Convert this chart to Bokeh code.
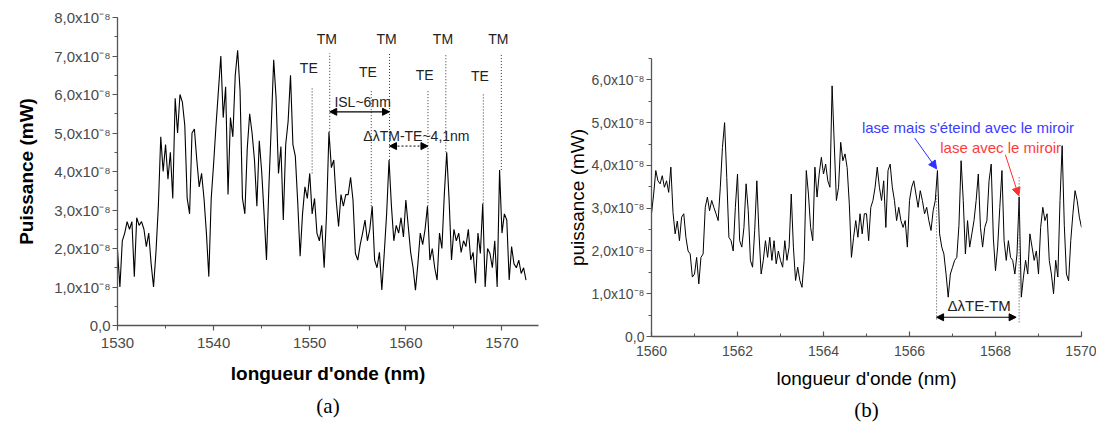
import numpy as np
from bokeh.plotting import figure
from bokeh.layouts import row
from bokeh.models import Range1d, SingleIntervalTicker, Arrow, NormalHead, Title
from bokeh.core.properties import value
from bokeh.embed import file_html
from bokeh.resources import INLINE

# ---------------- data: panel (a) ----------------
# wavelength grid: 1530 nm -> 1572.5 nm, step 0.25 nm ; power in units of 1e-8 mW
a_wl_start = 1530.0
a_wl_step = 0.25
a_power = [
    1.96, 1.0, 2.2, 2.4, 2.7, 2.5, 2.7, 1.27,
    2.8, 2.6, 2.7, 2.5, 2.05, 2.4, 1.6, 1.0,
    1.9, 3.1, 4.9, 4.0, 4.7, 3.8, 4.5, 3.3,
    5.9, 5.0, 6.0, 5.8, 5.2, 3.3, 2.9, 5.0,
    5.1, 4.3, 3.6, 3.95, 3.3, 2.4, 1.27, 3.3,
    4.2, 5.2, 6.1, 7.0, 5.4, 6.2, 3.4, 5.4,
    4.9, 6.5, 7.15, 6.1, 3.3, 2.9, 4.6, 5.5,
    5.0, 4.3, 3.1, 4.8, 4.0, 2.9, 1.7, 3.6,
    5.2, 6.9, 5.9, 3.95, 4.65, 2.74, 4.7, 5.3,
    6.5, 4.7, 4.4, 3.2, 1.8, 2.9, 3.6, 3.3,
    3.95, 2.9, 3.3, 2.4, 2.2, 2.6, 1.5, 2.9,
    5.03, 4.1, 4.3, 3.26, 2.57, 3.4, 3.1, 3.4,
    3.4, 3.85, 3.26, 1.87, 1.7, 2.1, 2.4, 2.74,
    2.2, 2.5, 3.1, 1.7, 1.5, 1.9, 0.92, 1.87,
    2.9, 4.3, 3.1, 2.2, 2.6, 2.4, 2.8, 2.3,
    3.26, 2.57, 1.9, 1.5, 0.92, 1.6, 2.4, 2.1,
    2.5, 3.1, 1.7, 2.0, 1.5, 1.18, 2.4, 2.0,
    3.4, 4.5, 3.26, 1.7, 2.5, 2.2, 2.4, 1.9,
    2.2, 2.05, 2.5, 1.7, 1.9, 1.1, 2.4, 1.87,
    3.17, 1.0, 2.0, 1.87, 1.5, 2.2, 1.0, 4.04,
    2.4, 2.9, 2.74, 1.18, 2.05, 1.6, 1.5, 1.7,
    1.35, 1.5, 1.18,
]
a_wl = a_wl_start + a_wl_step * np.arange(len(a_power))

a_tm_wl = [1552.08, 1558.3, 1564.16, 1569.93]
a_tm_peak = [5.03, 4.3, 4.5, 4.04]
a_te_wl = [1550.25, 1556.4, 1562.3, 1568.06]
a_te_peak = [3.95, 3.1, 3.1, 3.17]
a_ytick_labels = ["0,0"] + [f"{i},0x10\u207b\u2078" for i in range(1, 9)]

# ---------------- data: panel (b) ----------------
# wavelength grid: 1560 nm -> 1570 nm, step 0.05 nm ; power in units of 1e-8 mW
b_wl_start = 1560.0
b_wl_step = 0.05
b_power = [
    2.87, 3.33, 3.88, 3.64, 3.57, 3.76, 3.49, 3.64, 3.37, 3.96,
    2.9, 2.4, 2.7, 2.24, 2.79, 2.87, 2.32, 2.0, 1.93, 1.39,
    1.46, 1.85, 1.23, 1.85, 1.93, 3.02, 3.26, 2.94, 3.18, 3.02,
    2.87, 2.71, 3.49, 4.42, 5.0, 3.72, 2.32, 2.24, 2.0, 3.02,
    3.8, 2.24, 2.09, 2.55, 3.57, 2.94, 1.78, 1.62, 2.48, 3.64,
    2.4, 1.46, 1.78, 2.24, 1.85, 2.32, 1.78, 2.24, 1.7, 2.0,
    1.78, 1.62, 2.24, 1.78, 2.09, 3.33, 2.09, 1.31, 1.62, 1.31,
    1.15, 1.78, 3.88, 3.33, 2.55, 2.24, 3.96, 3.26, 3.8, 4.19,
    3.8, 4.03, 3.64, 3.49, 5.86, 4.5, 3.18, 3.49, 4.54, 4.11,
    4.27, 3.95, 3.1, 1.85, 2.32, 2.71, 2.32, 2.87, 2.4, 2.87,
    2.87, 2.24, 3.02, 3.18, 3.49, 3.96, 3.49, 3.18, 3.64, 2.55,
    3.88, 4.03, 3.49, 3.18, 2.71, 3.02, 2.71, 2.55, 2.71, 2.09,
    3.18, 3.49, 3.64, 3.33, 3.02, 3.41, 3.18, 2.87, 3.02, 2.71,
    2.48, 2.94, 3.18, 3.88, 2.4, 2.09, 1.93, 1.46, 0.92, 1.46,
    1.62, 1.78, 1.85, 2.6, 4.11, 3.18, 1.93, 2.71, 2.09, 2.4,
    2.71, 3.18, 3.8, 2.55, 2.09, 2.55, 2.71, 3.64, 4.03, 2.3,
    1.54, 2.09, 3.02, 3.88, 2.24, 1.78, 2.24, 1.85, 1.78, 1.46,
    1.93, 3.26, 0.92, 1.39, 1.78, 1.46, 2.4, 2.09, 1.78, 2.0,
    1.46, 2.55, 3.02, 2.71, 2.87, 1.78, 1.46, 1.0, 1.78, 1.39,
    3.18, 4.46, 2.6, 1.46, 1.3, 2.24, 2.87, 3.41, 3.18, 2.79,
    2.55,
]
b_wl = b_wl_start + b_wl_step * np.arange(len(b_power))

b_te_wl = 1566.63
b_tm_wl = 1568.55
b_ytick_labels = ["0,0"] + [f"{i},0x10\u207b\u2078" for i in range(1, 7)]

FONT = "Liberation Sans"
AXIS_COLOR = "#555555"
TICK_TEXT = "#4a4a4a"


def style_axes(p, tick_size, label_size, label_style, x_in):
    for ax in (p.xaxis[0], p.yaxis[0]):
        ax.axis_line_color = AXIS_COLOR
        ax.axis_line_width = 1.3
        ax.major_tick_line_color = AXIS_COLOR
        ax.minor_tick_line_color = AXIS_COLOR
        ax.major_tick_line_width = 1.2
        ax.minor_tick_line_width = 1.0
        ax.major_label_text_font = FONT
        ax.major_label_text_font_size = tick_size
        ax.major_label_text_color = TICK_TEXT
        ax.axis_label_text_font = FONT
        ax.axis_label_text_font_size = label_size
        ax.axis_label_text_font_style = label_style
        ax.axis_label_text_color = "black"
    ax = p.yaxis[0]
    ax.major_tick_out, ax.major_tick_in = 5, 0
    ax.minor_tick_out, ax.minor_tick_in = 3, 0
    ax.major_label_standoff = 2
    ax = p.xaxis[0]
    if x_in:
        ax.major_tick_out, ax.major_tick_in = 0, 5
        ax.minor_tick_out, ax.minor_tick_in = 0, 3
    else:
        ax.major_tick_out, ax.major_tick_in = 5, 0
        ax.minor_tick_out, ax.minor_tick_in = 3, 0
    p.xgrid.visible = False
    p.ygrid.visible = False
    p.outline_line_color = None
    p.background_fill_color = "white"
    p.border_fill_color = "white"


# ================= panel (a) =================
pa = figure(width=560, height=427, output_backend="svg", toolbar_location=None,
            x_range=Range1d(1530, 1573.8), y_range=Range1d(0, 8.0),
            min_border_left=117, min_border_right=22, min_border_top=17, min_border_bottom=102,
            frame_align=False,
            x_axis_label="longueur d'onde (nm)", y_axis_label="Puissance (mW)")
pa.xaxis.ticker = SingleIntervalTicker(interval=10, num_minor_ticks=2)
pa.yaxis.ticker = SingleIntervalTicker(interval=1, num_minor_ticks=2)
pa.yaxis.major_label_overrides = {i: t for i, t in enumerate(a_ytick_labels)}
style_axes(pa, "15px", "19px", "bold", x_in=False)
pa.xaxis.major_label_standoff = 7
pa.xaxis.axis_label_standoff = 12
pa.yaxis.axis_label_standoff = 14

pa.line(a_wl, a_power, line_color="black", line_width=1.1)

# dotted mode markers
pa.segment(x0=a_tm_wl, y0=a_tm_peak, x1=a_tm_wl, y1=[7.07] * 4,
           line_color="#333333", line_dash="1 2", line_width=1)
pa.segment(x0=a_te_wl, y0=a_te_peak, x1=a_te_wl, y1=[6.2, 6.1, 6.1, 6.05],
           line_color="#333333", line_dash="1 2", line_width=1)
pa.text(x=[w - 0.3 for w in a_tm_wl], y=[7.43] * 4, text=["TM"] * 4,
        text_font=value(FONT), text_font_size=value("14px"),
        text_align="center", text_baseline="middle", text_color="#222222")
pa.text(x=[w - 0.35 for w in a_te_wl], y=[6.68, 6.59, 6.5, 6.48], text=["TE"] * 4,
        text_font=value(FONT), text_font_size=value("14px"),
        text_align="center", text_baseline="middle", text_color="#222222")

# ISL arrow
pa.add_layout(Arrow(start=NormalHead(size=7, fill_color="black", line_color="black"),
                    end=NormalHead(size=7, fill_color="black", line_color="black"),
                    x_start=a_tm_wl[0], y_start=5.55, x_end=a_tm_wl[1], y_end=5.55,
                    line_color="black", line_width=1.2))
pa.text(x=[1555.5], y=[5.81], text=["ISL~6nm"],
        text_font=value(FONT), text_font_size=value("14px"),
        text_align="center", text_baseline="middle", text_color="#222222")
# delta lambda TM-TE arrow (dotted)
pa.add_layout(Arrow(start=NormalHead(size=7, fill_color="black", line_color="black"),
                    end=NormalHead(size=7, fill_color="black", line_color="black"),
                    x_start=a_tm_wl[1], y_start=4.66, x_end=a_te_wl[2], y_end=4.66,
                    line_color="black", line_width=1, line_dash="2 2"))
pa.text(x=[1561.1], y=[4.92], text=["\u0394\u03bbTM-TE~4,1nm"],
        text_font=value(FONT), text_font_size=value("14px"),
        text_align="center", text_baseline="middle", text_color="#222222")

pa.add_layout(Title(text="(a)", align="center", text_font="Liberation Serif",
                    text_font_size="21px", text_font_style="normal",
                    text_color="black", standoff=11), "below")

# ================= panel (b) =================
pb = figure(width=536, height=427, output_backend="svg", toolbar_location=None,
            x_range=Range1d(1560, 1570), y_range=Range1d(0, 6.5),
            min_border_left=91, min_border_right=15, min_border_top=58, min_border_bottom=91,
            frame_align=False,
            x_axis_label="longueur d'onde (nm)", y_axis_label="puissance (mW)")
pb.xaxis.ticker = SingleIntervalTicker(interval=2, num_minor_ticks=2)
pb.yaxis.ticker = SingleIntervalTicker(interval=1, num_minor_ticks=2)
pb.yaxis.major_label_overrides = {i: t for i, t in enumerate(b_ytick_labels)}
style_axes(pb, "14px", "19px", "normal", x_in=True)
pb.xaxis.major_label_standoff = 9
pb.xaxis.axis_label_standoff = 9
pb.yaxis.axis_label_standoff = 1

pb.line(b_wl, b_power, line_color="black", line_width=1)

pb.segment(x0=[b_te_wl, b_tm_wl], y0=[0.4, 0.33], x1=[b_te_wl, b_tm_wl], y1=[3.3, 3.72],
           line_color="#444444", line_dash="1 2", line_width=1)
pb.add_layout(Arrow(start=NormalHead(size=7, fill_color="black", line_color="black"),
                    end=NormalHead(size=7, fill_color="black", line_color="black"),
                    x_start=b_te_wl, y_start=0.45, x_end=1568.48, y_end=0.45,
                    line_color="black", line_width=1.2))
pb.text(x=[1567.62], y=[0.72], text=["\u0394\u03bbTE-TM"],
        text_font=value(FONT), text_font_size=value("15px"),
        text_align="center", text_baseline="middle", text_color="#222222")

pb.text(x=[1567.36], y=[4.89], text=["lase mais s'\u00e9teind avec le miroir"],
        text_font=value(FONT), text_font_size=value("15px"),
        text_align="center", text_baseline="middle", text_color="#3b3bff")
pb.add_layout(Arrow(end=NormalHead(size=8, fill_color="#2f2fff", line_color="#2f2fff"),
                    x_start=1566.12, y_start=4.64, x_end=b_te_wl, y_end=3.92,
                    line_color="#2f2fff", line_width=1))
pb.text(x=[1568.12], y=[4.41], text=["lase avec le miroir"],
        text_font=value(FONT), text_font_size=value("15px"),
        text_align="center", text_baseline="middle", text_color="#ff3b3b")
pb.add_layout(Arrow(end=NormalHead(size=8, fill_color="#ff2f2f", line_color="#ff2f2f"),
                    x_start=1568.23, y_start=4.25, x_end=1568.54, y_end=3.29,
                    line_color="#ff2f2f", line_width=1))

pb.add_layout(Title(text="(b)", align="center", text_font="Liberation Serif",
                    text_font_size="21px", text_font_style="normal",
                    text_color="black", standoff=9), "below")

layout = row(pa, pb)
open("out.html", "w").write(file_html(layout, INLINE))
